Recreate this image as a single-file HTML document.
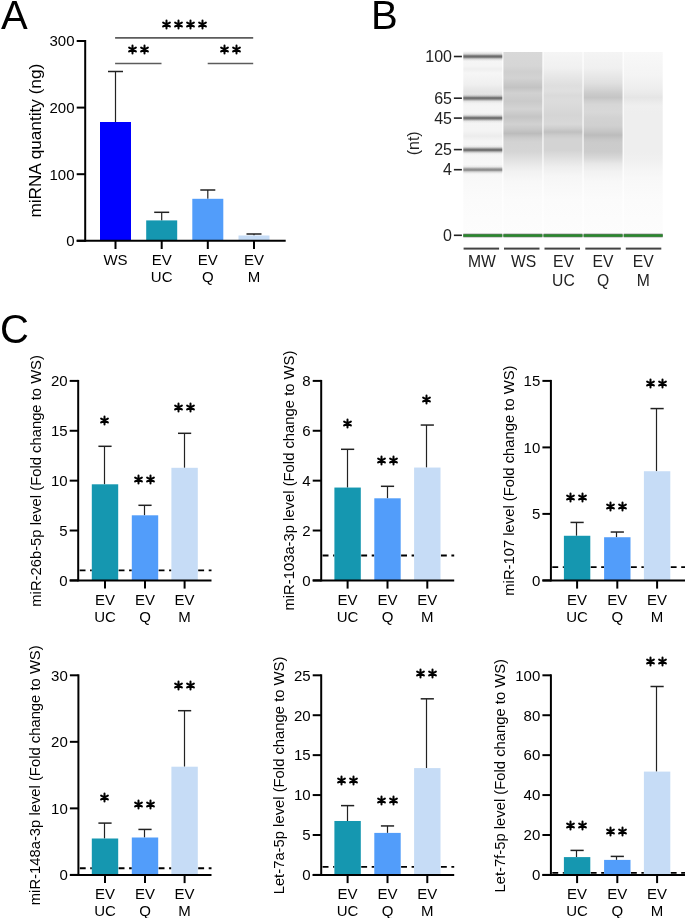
<!DOCTYPE html>
<html><head><meta charset="utf-8"><style>
html,body{margin:0;padding:0;background:#fff;}
svg{display:block;font-family:"Liberation Sans", sans-serif;}
</style></head><body>
<svg width="685" height="918" viewBox="0 0 685 918">
<defs><linearGradient id="gMW" gradientUnits="userSpaceOnUse" x1="0" y1="50" x2="0" y2="245"><stop offset="0.0082" stop-color="#f6f6f6"/><stop offset="0.0821" stop-color="#f5f5f5"/><stop offset="0.0974" stop-color="#efefef"/><stop offset="0.1179" stop-color="#f6f6f6"/><stop offset="0.1744" stop-color="#f0f0f0"/><stop offset="0.2154" stop-color="#e3e3e3"/><stop offset="0.2359" stop-color="#eaeaea"/><stop offset="0.2872" stop-color="#f5f5f5"/><stop offset="0.4154" stop-color="#f4f4f4"/><stop offset="0.4410" stop-color="#ececec"/><stop offset="0.4667" stop-color="#f5f5f5"/><stop offset="0.6410" stop-color="#f8f8f8"/><stop offset="0.7692" stop-color="#fbfbfb"/><stop offset="0.9744" stop-color="#fdfdfd"/></linearGradient><linearGradient id="gWS" gradientUnits="userSpaceOnUse" x1="0" y1="50" x2="0" y2="245"><stop offset="0.0097" stop-color="#d8d8d8"/><stop offset="0.0821" stop-color="#d6d6d6"/><stop offset="0.1128" stop-color="#cfcfcf"/><stop offset="0.1436" stop-color="#d2d2d2"/><stop offset="0.1923" stop-color="#c3c3c3"/><stop offset="0.2205" stop-color="#d1d1d1"/><stop offset="0.2636" stop-color="#cacaca"/><stop offset="0.3026" stop-color="#d3d3d3"/><stop offset="0.3421" stop-color="#c5c5c5"/><stop offset="0.3810" stop-color="#d1d1d1"/><stop offset="0.4051" stop-color="#c8c8c8"/><stop offset="0.4282" stop-color="#bcbcbc"/><stop offset="0.4513" stop-color="#cccccc"/><stop offset="0.4718" stop-color="#d3d3d3"/><stop offset="0.5221" stop-color="#d5d5d5"/><stop offset="0.5451" stop-color="#dcdcdc"/><stop offset="0.5846" stop-color="#e8e8e8"/><stop offset="0.6236" stop-color="#f2f2f2"/><stop offset="0.6769" stop-color="#f8f8f8"/><stop offset="0.7692" stop-color="#fbfbfb"/><stop offset="0.9744" stop-color="#fdfdfd"/></linearGradient><linearGradient id="gUC" gradientUnits="userSpaceOnUse" x1="0" y1="50" x2="0" y2="245"><stop offset="0.0097" stop-color="#f5f5f5"/><stop offset="0.0923" stop-color="#f0f0f0"/><stop offset="0.1308" stop-color="#e8e8e8"/><stop offset="0.1846" stop-color="#dedede"/><stop offset="0.2103" stop-color="#e0e0e0"/><stop offset="0.2323" stop-color="#dadada"/><stop offset="0.2564" stop-color="#dcdcdc"/><stop offset="0.2872" stop-color="#dadada"/><stop offset="0.3333" stop-color="#d5d5d5"/><stop offset="0.3810" stop-color="#d8d8d8"/><stop offset="0.4026" stop-color="#cdcdcd"/><stop offset="0.4205" stop-color="#c0c0c0"/><stop offset="0.4385" stop-color="#cccccc"/><stop offset="0.4564" stop-color="#d3d3d3"/><stop offset="0.5128" stop-color="#d3d3d3"/><stop offset="0.5533" stop-color="#e0e0e0"/><stop offset="0.6000" stop-color="#eeeeee"/><stop offset="0.6462" stop-color="#f6f6f6"/><stop offset="0.7692" stop-color="#fbfbfb"/><stop offset="0.9744" stop-color="#fdfdfd"/></linearGradient><linearGradient id="gQ" gradientUnits="userSpaceOnUse" x1="0" y1="50" x2="0" y2="245"><stop offset="0.0097" stop-color="#f4f4f4"/><stop offset="0.0918" stop-color="#f0f0f0"/><stop offset="0.1308" stop-color="#e8e8e8"/><stop offset="0.1692" stop-color="#e0e0e0"/><stop offset="0.2010" stop-color="#d4d4d4"/><stop offset="0.2231" stop-color="#cbcbcb"/><stop offset="0.2441" stop-color="#c5c5c5"/><stop offset="0.2615" stop-color="#cfcfcf"/><stop offset="0.2795" stop-color="#d6d6d6"/><stop offset="0.3179" stop-color="#d8d8d8"/><stop offset="0.3497" stop-color="#d2d2d2"/><stop offset="0.3887" stop-color="#d0d0d0"/><stop offset="0.4154" stop-color="#c6c6c6"/><stop offset="0.4359" stop-color="#bcbcbc"/><stop offset="0.4564" stop-color="#c6c6c6"/><stop offset="0.4749" stop-color="#cbcbcb"/><stop offset="0.5221" stop-color="#cccccc"/><stop offset="0.5533" stop-color="#d8d8d8"/><stop offset="0.5846" stop-color="#e8e8e8"/><stop offset="0.6236" stop-color="#f2f2f2"/><stop offset="0.6769" stop-color="#f8f8f8"/><stop offset="0.7692" stop-color="#fbfbfb"/><stop offset="0.9744" stop-color="#fdfdfd"/></linearGradient><linearGradient id="gM" gradientUnits="userSpaceOnUse" x1="0" y1="50" x2="0" y2="245"><stop offset="0.0097" stop-color="#f8f8f8"/><stop offset="0.1308" stop-color="#f4f4f4"/><stop offset="0.1933" stop-color="#eeeeee"/><stop offset="0.2205" stop-color="#eaeaea"/><stop offset="0.2441" stop-color="#e5e5e5"/><stop offset="0.2667" stop-color="#ebebeb"/><stop offset="0.2872" stop-color="#efefef"/><stop offset="0.3262" stop-color="#eeeeee"/><stop offset="0.5221" stop-color="#eeeeee"/><stop offset="0.5610" stop-color="#f0f0f0"/><stop offset="0.6000" stop-color="#f4f4f4"/><stop offset="0.6549" stop-color="#f8f8f8"/><stop offset="0.7692" stop-color="#fbfbfb"/><stop offset="0.9744" stop-color="#fdfdfd"/></linearGradient><linearGradient id="bMW" x1="0" y1="0" x2="0" y2="1"><stop offset="0" stop-color="#6c6c6c" stop-opacity="0.000"/><stop offset="0.18" stop-color="#6c6c6c" stop-opacity="0.100"/><stop offset="0.32" stop-color="#6c6c6c" stop-opacity="0.450"/><stop offset="0.42" stop-color="#6c6c6c" stop-opacity="0.900"/><stop offset="0.5" stop-color="#6c6c6c" stop-opacity="1.000"/><stop offset="0.58" stop-color="#6c6c6c" stop-opacity="0.900"/><stop offset="0.68" stop-color="#6c6c6c" stop-opacity="0.450"/><stop offset="0.82" stop-color="#6c6c6c" stop-opacity="0.100"/><stop offset="1" stop-color="#6c6c6c" stop-opacity="0.000"/></linearGradient><linearGradient id="bMW4" x1="0" y1="0" x2="0" y2="1"><stop offset="0" stop-color="#8c8c8c" stop-opacity="0.000"/><stop offset="0.18" stop-color="#8c8c8c" stop-opacity="0.100"/><stop offset="0.32" stop-color="#8c8c8c" stop-opacity="0.450"/><stop offset="0.42" stop-color="#8c8c8c" stop-opacity="0.900"/><stop offset="0.5" stop-color="#8c8c8c" stop-opacity="1.000"/><stop offset="0.58" stop-color="#8c8c8c" stop-opacity="0.900"/><stop offset="0.68" stop-color="#8c8c8c" stop-opacity="0.450"/><stop offset="0.82" stop-color="#8c8c8c" stop-opacity="0.100"/><stop offset="1" stop-color="#8c8c8c" stop-opacity="0.000"/></linearGradient><linearGradient id="bGR" x1="0" y1="0" x2="0" y2="1"><stop offset="0" stop-color="#237a26" stop-opacity="0.000"/><stop offset="0.18" stop-color="#237a26" stop-opacity="0.100"/><stop offset="0.32" stop-color="#237a26" stop-opacity="0.450"/><stop offset="0.42" stop-color="#237a26" stop-opacity="0.900"/><stop offset="0.5" stop-color="#237a26" stop-opacity="1.000"/><stop offset="0.58" stop-color="#237a26" stop-opacity="0.900"/><stop offset="0.68" stop-color="#237a26" stop-opacity="0.450"/><stop offset="0.82" stop-color="#237a26" stop-opacity="0.100"/><stop offset="1" stop-color="#237a26" stop-opacity="0.000"/></linearGradient>
<filter id="soft" x="0" y="0" width="685" height="918" filterUnits="userSpaceOnUse" color-interpolation-filters="sRGB"><feGaussianBlur stdDeviation="0.45"/></filter>
<filter id="blur1" x="-10%" y="-200%" width="120%" height="500%"><feGaussianBlur stdDeviation="0 0.7"/></filter>
</defs>
<rect width="685" height="918" fill="#fff"/>
<g filter="url(#soft)">
<rect width="685" height="918" fill="#fff"/>
<rect x="463.30" y="51.6" width="39.0" height="188.4" fill="url(#gMW)"/>
<rect x="503.40" y="52.0" width="39.0" height="188.0" fill="url(#gWS)"/>
<rect x="543.50" y="52.0" width="39.0" height="188.0" fill="url(#gUC)"/>
<rect x="583.60" y="52.0" width="39.0" height="188.0" fill="url(#gQ)"/>
<rect x="623.70" y="52.0" width="39.0" height="188.0" fill="url(#gM)"/>
<rect x="463.30" y="51.40" width="39.0" height="10.2" fill="url(#bMW)"/>
<rect x="463.30" y="93.10" width="39.0" height="10.2" fill="url(#bMW)"/>
<rect x="463.30" y="113.00" width="39.0" height="10.2" fill="url(#bMW)"/>
<rect x="463.30" y="144.80" width="39.0" height="10.2" fill="url(#bMW)"/>
<rect x="463.30" y="164.60" width="39.0" height="10.2" fill="url(#bMW4)"/>
<rect x="463.30" y="233.7" width="39.0" height="3.6" fill="#5a5a5a" opacity="0.85"/>
<rect x="463.30" y="234.4" width="39.0" height="2.3" fill="#268a2a"/>
<rect x="503.40" y="233.7" width="39.0" height="3.6" fill="#5a5a5a" opacity="0.85"/>
<rect x="503.40" y="234.4" width="39.0" height="2.3" fill="#268a2a"/>
<rect x="543.50" y="233.7" width="39.0" height="3.6" fill="#5a5a5a" opacity="0.85"/>
<rect x="543.50" y="234.4" width="39.0" height="2.3" fill="#268a2a"/>
<rect x="583.60" y="233.7" width="39.0" height="3.6" fill="#5a5a5a" opacity="0.85"/>
<rect x="583.60" y="234.4" width="39.0" height="2.3" fill="#268a2a"/>
<rect x="623.70" y="233.7" width="39.0" height="3.6" fill="#5a5a5a" opacity="0.85"/>
<rect x="623.70" y="234.4" width="39.0" height="2.3" fill="#268a2a"/>
<rect x="463.60" y="247.6" width="35.5" height="2" fill="#444"/>
<rect x="504.00" y="247.6" width="35.5" height="2" fill="#444"/>
<rect x="544.50" y="247.6" width="35.5" height="2" fill="#444"/>
<rect x="585.30" y="247.6" width="35.5" height="2" fill="#444"/>
<rect x="625.80" y="247.6" width="35.5" height="2" fill="#444"/>
<text x="481.90" y="267.2" font-size="15.7" text-anchor="middle" fill="#222">MW</text>
<text x="523.70" y="267.2" font-size="15.7" text-anchor="middle" fill="#222">WS</text>
<text x="563.40" y="267.2" font-size="15.7" text-anchor="middle" fill="#222">EV</text>
<text x="563.40" y="286.2" font-size="15.7" text-anchor="middle" fill="#222">UC</text>
<text x="603.00" y="267.2" font-size="15.7" text-anchor="middle" fill="#222">EV</text>
<text x="603.00" y="286.2" font-size="15.7" text-anchor="middle" fill="#222">Q</text>
<text x="643.20" y="267.2" font-size="15.7" text-anchor="middle" fill="#222">EV</text>
<text x="643.20" y="286.2" font-size="15.7" text-anchor="middle" fill="#222">M</text>
<text x="452" y="62.20" font-size="16" text-anchor="end" fill="#222">100</text>
<rect x="453.9" y="55.70" width="8" height="1.6" fill="#222"/>
<text x="452" y="103.90" font-size="16" text-anchor="end" fill="#222">65</text>
<rect x="453.9" y="97.40" width="8" height="1.6" fill="#222"/>
<text x="452" y="123.80" font-size="16" text-anchor="end" fill="#222">45</text>
<rect x="453.9" y="117.30" width="8" height="1.6" fill="#222"/>
<text x="452" y="155.30" font-size="16" text-anchor="end" fill="#222">25</text>
<rect x="453.9" y="148.80" width="8" height="1.6" fill="#222"/>
<text x="452" y="175.40" font-size="16" text-anchor="end" fill="#222">4</text>
<rect x="453.9" y="168.90" width="8" height="1.6" fill="#222"/>
<text x="452" y="241.00" font-size="16" text-anchor="end" fill="#222">0</text>
<rect x="453.9" y="234.50" width="8" height="1.6" fill="#222"/>
<text transform="translate(419.3,143.3) rotate(-90)" font-size="16" text-anchor="middle" fill="#222">(nt)</text>
<text x="1.00" y="29.00" font-size="40" text-anchor="start" font-weight="normal" fill="#000" >A</text>
<text x="371.00" y="29.00" font-size="40" text-anchor="start" font-weight="normal" fill="#000" >B</text>
<text x="0.00" y="343.00" font-size="40" text-anchor="start" font-weight="normal" fill="#000" >C</text>
<line x1="115.50" y1="71.50" x2="115.50" y2="122.00" stroke="#222" stroke-width="1.2" />
<line x1="108.00" y1="71.50" x2="123.00" y2="71.50" stroke="#222" stroke-width="1.5" />
<rect x="100.00" y="122.00" width="31.00" height="118.80" fill="#0000ff"/>
<line x1="115.50" y1="240.80" x2="115.50" y2="249.00" stroke="#000" stroke-width="2" />
<text x="115.50" y="265.30" font-size="15" text-anchor="middle" font-weight="normal" fill="#000" >WS</text>
<line x1="161.70" y1="212.30" x2="161.70" y2="220.40" stroke="#222" stroke-width="1.2" />
<line x1="154.20" y1="212.30" x2="169.20" y2="212.30" stroke="#222" stroke-width="1.5" />
<rect x="146.20" y="220.40" width="31.00" height="20.40" fill="#1597b0"/>
<line x1="161.70" y1="240.80" x2="161.70" y2="249.00" stroke="#000" stroke-width="2" />
<text x="161.70" y="265.30" font-size="15" text-anchor="middle" font-weight="normal" fill="#000" >EV</text>
<text x="161.70" y="282.30" font-size="15" text-anchor="middle" font-weight="normal" fill="#000" >UC</text>
<line x1="207.80" y1="190.00" x2="207.80" y2="198.80" stroke="#222" stroke-width="1.2" />
<line x1="200.30" y1="190.00" x2="215.30" y2="190.00" stroke="#222" stroke-width="1.5" />
<rect x="192.30" y="198.80" width="31.00" height="42.00" fill="#529dfa"/>
<line x1="207.80" y1="240.80" x2="207.80" y2="249.00" stroke="#000" stroke-width="2" />
<text x="207.80" y="265.30" font-size="15" text-anchor="middle" font-weight="normal" fill="#000" >EV</text>
<text x="207.80" y="282.30" font-size="15" text-anchor="middle" font-weight="normal" fill="#000" >Q</text>
<line x1="254.00" y1="234.00" x2="254.00" y2="235.50" stroke="#222" stroke-width="1.2" />
<line x1="246.50" y1="234.00" x2="261.50" y2="234.00" stroke="#222" stroke-width="1.5" />
<rect x="238.50" y="235.50" width="31.00" height="5.30" fill="#c6dcf6"/>
<line x1="254.00" y1="240.80" x2="254.00" y2="249.00" stroke="#000" stroke-width="2" />
<text x="254.00" y="265.30" font-size="15" text-anchor="middle" font-weight="normal" fill="#000" >EV</text>
<text x="254.00" y="282.30" font-size="15" text-anchor="middle" font-weight="normal" fill="#000" >M</text>
<line x1="85.20" y1="40.00" x2="85.20" y2="241.80" stroke="#000" stroke-width="2" />
<line x1="76.70" y1="240.80" x2="285.70" y2="240.80" stroke="#000" stroke-width="2" />
<line x1="76.70" y1="240.80" x2="85.20" y2="240.80" stroke="#000" stroke-width="2" />
<text x="74.50" y="246.10" font-size="15" text-anchor="end" font-weight="normal" fill="#000" >0</text>
<line x1="76.70" y1="174.20" x2="85.20" y2="174.20" stroke="#000" stroke-width="2" />
<text x="74.50" y="179.50" font-size="15" text-anchor="end" font-weight="normal" fill="#000" >100</text>
<line x1="76.70" y1="107.60" x2="85.20" y2="107.60" stroke="#000" stroke-width="2" />
<text x="74.50" y="112.90" font-size="15" text-anchor="end" font-weight="normal" fill="#000" >200</text>
<line x1="76.70" y1="41.00" x2="85.20" y2="41.00" stroke="#000" stroke-width="2" />
<text x="74.50" y="46.30" font-size="15" text-anchor="end" font-weight="normal" fill="#000" >300</text>
<text transform="translate(41.2,140.7) rotate(-90)" font-size="17.2" text-anchor="middle">miRNA quantity (ng)</text>
<line x1="115.10" y1="37.90" x2="253.20" y2="37.90" stroke="#5c5c5c" stroke-width="1.6" />
<line x1="115.10" y1="63.50" x2="161.50" y2="63.50" stroke="#5c5c5c" stroke-width="1.6" />
<line x1="207.70" y1="63.50" x2="253.20" y2="63.50" stroke="#5c5c5c" stroke-width="1.6" />
<path d="M166.50 20.60V28.40M163.12 22.55L169.88 26.45M163.12 26.45L169.88 22.55M178.50 20.60V28.40M175.12 22.55L181.88 26.45M175.12 26.45L181.88 22.55M190.50 20.60V28.40M187.12 22.55L193.88 26.45M187.12 26.45L193.88 22.55M202.50 20.60V28.40M199.12 22.55L205.88 26.45M199.12 26.45L205.88 22.55" stroke="#000" stroke-width="2.0" stroke-linecap="round" fill="none"/>
<path d="M132.50 45.60V53.40M129.12 47.55L135.88 51.45M129.12 51.45L135.88 47.55M144.50 45.60V53.40M141.12 47.55L147.88 51.45M141.12 51.45L147.88 47.55" stroke="#000" stroke-width="2.0" stroke-linecap="round" fill="none"/>
<path d="M224.50 45.60V53.40M221.12 47.55L227.88 51.45M221.12 51.45L227.88 47.55M236.50 45.60V53.40M233.12 47.55L239.88 51.45M233.12 51.45L239.88 47.55" stroke="#000" stroke-width="2.0" stroke-linecap="round" fill="none"/>
<line x1="79.60" y1="570.42" x2="91.80" y2="570.42" stroke="#000" stroke-width="1.9" stroke-dasharray="5.9 4.6"/>
<line x1="118.60" y1="570.42" x2="131.80" y2="570.42" stroke="#000" stroke-width="1.9" stroke-dasharray="5.9 4.6"/>
<line x1="158.60" y1="570.42" x2="171.40" y2="570.42" stroke="#000" stroke-width="1.9" stroke-dasharray="5.9 4.6"/>
<line x1="198.20" y1="570.42" x2="211.50" y2="570.42" stroke="#000" stroke-width="1.9" stroke-dasharray="5.9 4.6"/>
<line x1="104.50" y1="446.30" x2="104.50" y2="484.30" stroke="#222" stroke-width="1.2" />
<line x1="98.40" y1="446.30" x2="111.60" y2="446.30" stroke="#222" stroke-width="1.5" />
<rect x="91.80" y="484.30" width="26.40" height="96.10" fill="#1597b0"/>
<line x1="105.00" y1="580.40" x2="105.00" y2="588.60" stroke="#000" stroke-width="2" />
<text x="105.00" y="604.70" font-size="15" text-anchor="middle" font-weight="normal" fill="#000" >EV</text>
<text x="105.00" y="621.70" font-size="15" text-anchor="middle" font-weight="normal" fill="#000" >UC</text>
<path d="M104.50 416.60V424.40M101.12 418.55L107.88 422.45M101.12 422.45L107.88 418.55" stroke="#000" stroke-width="2.0" stroke-linecap="round" fill="none"/>
<line x1="144.50" y1="505.30" x2="144.50" y2="515.30" stroke="#222" stroke-width="1.2" />
<line x1="138.40" y1="505.30" x2="151.60" y2="505.30" stroke="#222" stroke-width="1.5" />
<rect x="131.80" y="515.30" width="26.40" height="65.10" fill="#529dfa"/>
<line x1="145.00" y1="580.40" x2="145.00" y2="588.60" stroke="#000" stroke-width="2" />
<text x="145.00" y="604.70" font-size="15" text-anchor="middle" font-weight="normal" fill="#000" >EV</text>
<text x="145.00" y="621.70" font-size="15" text-anchor="middle" font-weight="normal" fill="#000" >Q</text>
<path d="M138.50 475.60V483.40M135.12 477.55L141.88 481.45M135.12 481.45L141.88 477.55M150.50 475.60V483.40M147.12 477.55L153.88 481.45M147.12 481.45L153.88 477.55" stroke="#000" stroke-width="2.0" stroke-linecap="round" fill="none"/>
<line x1="184.50" y1="433.30" x2="184.50" y2="467.80" stroke="#222" stroke-width="1.2" />
<line x1="178.00" y1="433.30" x2="191.20" y2="433.30" stroke="#222" stroke-width="1.5" />
<rect x="171.40" y="467.80" width="26.40" height="112.60" fill="#c6dcf6"/>
<line x1="184.60" y1="580.40" x2="184.60" y2="588.60" stroke="#000" stroke-width="2" />
<text x="184.60" y="604.70" font-size="15" text-anchor="middle" font-weight="normal" fill="#000" >EV</text>
<text x="184.60" y="621.70" font-size="15" text-anchor="middle" font-weight="normal" fill="#000" >M</text>
<path d="M178.50 403.60V411.40M175.12 405.55L181.88 409.45M175.12 409.45L181.88 405.55M190.50 403.60V411.40M187.12 405.55L193.88 409.45M187.12 409.45L193.88 405.55" stroke="#000" stroke-width="2.0" stroke-linecap="round" fill="none"/>
<line x1="78.20" y1="379.90" x2="78.20" y2="581.40" stroke="#000" stroke-width="2" />
<line x1="69.70" y1="580.40" x2="211.50" y2="580.40" stroke="#000" stroke-width="2" />
<line x1="69.70" y1="580.40" x2="78.20" y2="580.40" stroke="#000" stroke-width="2" />
<text x="67.60" y="585.70" font-size="15" text-anchor="end" font-weight="normal" fill="#000" >0</text>
<line x1="69.70" y1="530.52" x2="78.20" y2="530.52" stroke="#000" stroke-width="2" />
<text x="67.60" y="535.82" font-size="15" text-anchor="end" font-weight="normal" fill="#000" >5</text>
<line x1="69.70" y1="480.65" x2="78.20" y2="480.65" stroke="#000" stroke-width="2" />
<text x="67.60" y="485.95" font-size="15" text-anchor="end" font-weight="normal" fill="#000" >10</text>
<line x1="69.70" y1="430.77" x2="78.20" y2="430.77" stroke="#000" stroke-width="2" />
<text x="67.60" y="436.07" font-size="15" text-anchor="end" font-weight="normal" fill="#000" >15</text>
<line x1="69.70" y1="380.90" x2="78.20" y2="380.90" stroke="#000" stroke-width="2" />
<text x="67.60" y="386.20" font-size="15" text-anchor="end" font-weight="normal" fill="#000" >20</text>
<text transform="translate(40.6,480.9) rotate(-90)" font-size="14.8" text-anchor="middle">miR-26b-5p level (Fold change to WS)</text>
<line x1="322.60" y1="555.46" x2="334.40" y2="555.46" stroke="#000" stroke-width="1.9" stroke-dasharray="5.9 4.6"/>
<line x1="361.20" y1="555.46" x2="374.30" y2="555.46" stroke="#000" stroke-width="1.9" stroke-dasharray="5.9 4.6"/>
<line x1="401.10" y1="555.46" x2="414.10" y2="555.46" stroke="#000" stroke-width="1.9" stroke-dasharray="5.9 4.6"/>
<line x1="440.90" y1="555.46" x2="454.20" y2="555.46" stroke="#000" stroke-width="1.9" stroke-dasharray="5.9 4.6"/>
<line x1="347.50" y1="449.30" x2="347.50" y2="487.55" stroke="#222" stroke-width="1.2" />
<line x1="341.00" y1="449.30" x2="354.20" y2="449.30" stroke="#222" stroke-width="1.5" />
<rect x="334.40" y="487.55" width="26.40" height="92.85" fill="#1597b0"/>
<line x1="347.60" y1="580.40" x2="347.60" y2="588.60" stroke="#000" stroke-width="2" />
<text x="347.60" y="604.70" font-size="15" text-anchor="middle" font-weight="normal" fill="#000" >EV</text>
<text x="347.60" y="621.70" font-size="15" text-anchor="middle" font-weight="normal" fill="#000" >UC</text>
<path d="M347.50 419.60V427.40M344.12 421.55L350.88 425.45M344.12 425.45L350.88 421.55" stroke="#000" stroke-width="2.0" stroke-linecap="round" fill="none"/>
<line x1="387.50" y1="486.30" x2="387.50" y2="498.30" stroke="#222" stroke-width="1.2" />
<line x1="380.90" y1="486.30" x2="394.10" y2="486.30" stroke="#222" stroke-width="1.5" />
<rect x="374.30" y="498.30" width="26.40" height="82.10" fill="#529dfa"/>
<line x1="387.50" y1="580.40" x2="387.50" y2="588.60" stroke="#000" stroke-width="2" />
<text x="387.50" y="604.70" font-size="15" text-anchor="middle" font-weight="normal" fill="#000" >EV</text>
<text x="387.50" y="621.70" font-size="15" text-anchor="middle" font-weight="normal" fill="#000" >Q</text>
<path d="M381.50 456.60V464.40M378.12 458.55L384.88 462.45M378.12 462.45L384.88 458.55M393.50 456.60V464.40M390.12 458.55L396.88 462.45M390.12 462.45L396.88 458.55" stroke="#000" stroke-width="2.0" stroke-linecap="round" fill="none"/>
<line x1="426.50" y1="425.05" x2="426.50" y2="467.55" stroke="#222" stroke-width="1.2" />
<line x1="420.70" y1="425.05" x2="433.90" y2="425.05" stroke="#222" stroke-width="1.5" />
<rect x="414.10" y="467.55" width="26.40" height="112.85" fill="#c6dcf6"/>
<line x1="427.30" y1="580.40" x2="427.30" y2="588.60" stroke="#000" stroke-width="2" />
<text x="427.30" y="604.70" font-size="15" text-anchor="middle" font-weight="normal" fill="#000" >EV</text>
<text x="427.30" y="621.70" font-size="15" text-anchor="middle" font-weight="normal" fill="#000" >M</text>
<path d="M426.50 395.60V403.40M423.12 397.55L429.88 401.45M423.12 401.45L429.88 397.55" stroke="#000" stroke-width="2.0" stroke-linecap="round" fill="none"/>
<line x1="321.20" y1="379.90" x2="321.20" y2="581.40" stroke="#000" stroke-width="2" />
<line x1="312.70" y1="580.40" x2="454.20" y2="580.40" stroke="#000" stroke-width="2" />
<line x1="312.70" y1="580.40" x2="321.20" y2="580.40" stroke="#000" stroke-width="2" />
<text x="310.60" y="585.70" font-size="15" text-anchor="end" font-weight="normal" fill="#000" >0</text>
<line x1="312.70" y1="530.52" x2="321.20" y2="530.52" stroke="#000" stroke-width="2" />
<text x="310.60" y="535.82" font-size="15" text-anchor="end" font-weight="normal" fill="#000" >2</text>
<line x1="312.70" y1="480.65" x2="321.20" y2="480.65" stroke="#000" stroke-width="2" />
<text x="310.60" y="485.95" font-size="15" text-anchor="end" font-weight="normal" fill="#000" >4</text>
<line x1="312.70" y1="430.77" x2="321.20" y2="430.77" stroke="#000" stroke-width="2" />
<text x="310.60" y="436.07" font-size="15" text-anchor="end" font-weight="normal" fill="#000" >6</text>
<line x1="312.70" y1="380.90" x2="321.20" y2="380.90" stroke="#000" stroke-width="2" />
<text x="310.60" y="386.20" font-size="15" text-anchor="end" font-weight="normal" fill="#000" >8</text>
<text transform="translate(293.6,480.6) rotate(-90)" font-size="14.8" text-anchor="middle">miR-103a-3p level (Fold change to WS)</text>
<line x1="552.30" y1="567.10" x2="563.90" y2="567.10" stroke="#000" stroke-width="1.9" stroke-dasharray="5.9 4.6"/>
<line x1="590.70" y1="567.10" x2="604.10" y2="567.10" stroke="#000" stroke-width="1.9" stroke-dasharray="5.9 4.6"/>
<line x1="630.90" y1="567.10" x2="643.90" y2="567.10" stroke="#000" stroke-width="1.9" stroke-dasharray="5.9 4.6"/>
<line x1="670.70" y1="567.10" x2="685.00" y2="567.10" stroke="#000" stroke-width="1.9" stroke-dasharray="5.9 4.6"/>
<line x1="576.50" y1="522.43" x2="576.50" y2="535.77" stroke="#222" stroke-width="1.2" />
<line x1="570.50" y1="522.43" x2="583.70" y2="522.43" stroke="#222" stroke-width="1.5" />
<rect x="563.90" y="535.77" width="26.40" height="44.63" fill="#1597b0"/>
<line x1="577.10" y1="580.40" x2="577.10" y2="588.60" stroke="#000" stroke-width="2" />
<text x="577.10" y="604.70" font-size="15" text-anchor="middle" font-weight="normal" fill="#000" >EV</text>
<text x="577.10" y="621.70" font-size="15" text-anchor="middle" font-weight="normal" fill="#000" >UC</text>
<path d="M570.50 493.60V501.40M567.12 495.55L573.88 499.45M567.12 499.45L573.88 495.55M582.50 493.60V501.40M579.12 495.55L585.88 499.45M579.12 499.45L585.88 495.55" stroke="#000" stroke-width="2.0" stroke-linecap="round" fill="none"/>
<line x1="616.50" y1="532.03" x2="616.50" y2="537.23" stroke="#222" stroke-width="1.2" />
<line x1="610.70" y1="532.03" x2="623.90" y2="532.03" stroke="#222" stroke-width="1.5" />
<rect x="604.10" y="537.23" width="26.40" height="43.17" fill="#529dfa"/>
<line x1="617.30" y1="580.40" x2="617.30" y2="588.60" stroke="#000" stroke-width="2" />
<text x="617.30" y="604.70" font-size="15" text-anchor="middle" font-weight="normal" fill="#000" >EV</text>
<text x="617.30" y="621.70" font-size="15" text-anchor="middle" font-weight="normal" fill="#000" >Q</text>
<path d="M610.50 502.60V510.40M607.12 504.55L613.88 508.45M607.12 508.45L613.88 504.55M622.50 502.60V510.40M619.12 504.55L625.88 508.45M619.12 508.45L625.88 504.55" stroke="#000" stroke-width="2.0" stroke-linecap="round" fill="none"/>
<line x1="656.50" y1="408.57" x2="656.50" y2="471.23" stroke="#222" stroke-width="1.2" />
<line x1="650.50" y1="408.57" x2="663.70" y2="408.57" stroke="#222" stroke-width="1.5" />
<rect x="643.90" y="471.23" width="26.40" height="109.17" fill="#c6dcf6"/>
<line x1="657.10" y1="580.40" x2="657.10" y2="588.60" stroke="#000" stroke-width="2" />
<text x="657.10" y="604.70" font-size="15" text-anchor="middle" font-weight="normal" fill="#000" >EV</text>
<text x="657.10" y="621.70" font-size="15" text-anchor="middle" font-weight="normal" fill="#000" >M</text>
<path d="M650.50 379.60V387.40M647.12 381.55L653.88 385.45M647.12 385.45L653.88 381.55M662.50 379.60V387.40M659.12 381.55L665.88 385.45M659.12 385.45L665.88 381.55" stroke="#000" stroke-width="2.0" stroke-linecap="round" fill="none"/>
<line x1="550.90" y1="379.90" x2="550.90" y2="581.40" stroke="#000" stroke-width="2" />
<line x1="542.40" y1="580.40" x2="685.00" y2="580.40" stroke="#000" stroke-width="2" />
<line x1="542.40" y1="580.40" x2="550.90" y2="580.40" stroke="#000" stroke-width="2" />
<text x="540.30" y="585.70" font-size="15" text-anchor="end" font-weight="normal" fill="#000" >0</text>
<line x1="542.40" y1="513.90" x2="550.90" y2="513.90" stroke="#000" stroke-width="2" />
<text x="540.30" y="519.20" font-size="15" text-anchor="end" font-weight="normal" fill="#000" >5</text>
<line x1="542.40" y1="447.40" x2="550.90" y2="447.40" stroke="#000" stroke-width="2" />
<text x="540.30" y="452.70" font-size="15" text-anchor="end" font-weight="normal" fill="#000" >10</text>
<line x1="542.40" y1="380.90" x2="550.90" y2="380.90" stroke="#000" stroke-width="2" />
<text x="540.30" y="386.20" font-size="15" text-anchor="end" font-weight="normal" fill="#000" >15</text>
<text transform="translate(514.0,480.6) rotate(-90)" font-size="14.8" text-anchor="middle">miR-107 level (Fold change to WS)</text>
<line x1="79.80" y1="868.25" x2="91.80" y2="868.25" stroke="#000" stroke-width="1.9" stroke-dasharray="5.9 4.6"/>
<line x1="118.60" y1="868.25" x2="131.80" y2="868.25" stroke="#000" stroke-width="1.9" stroke-dasharray="5.9 4.6"/>
<line x1="158.60" y1="868.25" x2="171.40" y2="868.25" stroke="#000" stroke-width="1.9" stroke-dasharray="5.9 4.6"/>
<line x1="198.20" y1="868.25" x2="211.50" y2="868.25" stroke="#000" stroke-width="1.9" stroke-dasharray="5.9 4.6"/>
<line x1="104.50" y1="823.10" x2="104.50" y2="838.50" stroke="#222" stroke-width="1.2" />
<line x1="98.40" y1="823.10" x2="111.60" y2="823.10" stroke="#222" stroke-width="1.5" />
<rect x="91.80" y="838.50" width="26.40" height="36.40" fill="#1597b0"/>
<line x1="105.00" y1="874.90" x2="105.00" y2="883.10" stroke="#000" stroke-width="2" />
<text x="105.00" y="899.20" font-size="15" text-anchor="middle" font-weight="normal" fill="#000" >EV</text>
<text x="105.00" y="916.20" font-size="15" text-anchor="middle" font-weight="normal" fill="#000" >UC</text>
<path d="M104.50 793.60V801.40M101.12 795.55L107.88 799.45M101.12 799.45L107.88 795.55" stroke="#000" stroke-width="2.0" stroke-linecap="round" fill="none"/>
<line x1="144.50" y1="829.43" x2="144.50" y2="837.50" stroke="#222" stroke-width="1.2" />
<line x1="138.40" y1="829.43" x2="151.60" y2="829.43" stroke="#222" stroke-width="1.5" />
<rect x="131.80" y="837.50" width="26.40" height="37.40" fill="#529dfa"/>
<line x1="145.00" y1="874.90" x2="145.00" y2="883.10" stroke="#000" stroke-width="2" />
<text x="145.00" y="899.20" font-size="15" text-anchor="middle" font-weight="normal" fill="#000" >EV</text>
<text x="145.00" y="916.20" font-size="15" text-anchor="middle" font-weight="normal" fill="#000" >Q</text>
<path d="M138.50 800.60V808.40M135.12 802.55L141.88 806.45M135.12 806.45L141.88 802.55M150.50 800.60V808.40M147.12 802.55L153.88 806.45M147.12 806.45L153.88 802.55" stroke="#000" stroke-width="2.0" stroke-linecap="round" fill="none"/>
<line x1="184.50" y1="710.70" x2="184.50" y2="766.70" stroke="#222" stroke-width="1.2" />
<line x1="178.00" y1="710.70" x2="191.20" y2="710.70" stroke="#222" stroke-width="1.5" />
<rect x="171.40" y="766.70" width="26.40" height="108.20" fill="#c6dcf6"/>
<line x1="184.60" y1="874.90" x2="184.60" y2="883.10" stroke="#000" stroke-width="2" />
<text x="184.60" y="899.20" font-size="15" text-anchor="middle" font-weight="normal" fill="#000" >EV</text>
<text x="184.60" y="916.20" font-size="15" text-anchor="middle" font-weight="normal" fill="#000" >M</text>
<path d="M178.50 681.60V689.40M175.12 683.55L181.88 687.45M175.12 687.45L181.88 683.55M190.50 681.60V689.40M187.12 683.55L193.88 687.45M187.12 687.45L193.88 683.55" stroke="#000" stroke-width="2.0" stroke-linecap="round" fill="none"/>
<line x1="78.40" y1="674.30" x2="78.40" y2="875.90" stroke="#000" stroke-width="2" />
<line x1="69.90" y1="874.90" x2="211.50" y2="874.90" stroke="#000" stroke-width="2" />
<line x1="69.90" y1="874.90" x2="78.40" y2="874.90" stroke="#000" stroke-width="2" />
<text x="67.80" y="880.20" font-size="15" text-anchor="end" font-weight="normal" fill="#000" >0</text>
<line x1="69.90" y1="808.37" x2="78.40" y2="808.37" stroke="#000" stroke-width="2" />
<text x="67.80" y="813.67" font-size="15" text-anchor="end" font-weight="normal" fill="#000" >10</text>
<line x1="69.90" y1="741.83" x2="78.40" y2="741.83" stroke="#000" stroke-width="2" />
<text x="67.80" y="747.13" font-size="15" text-anchor="end" font-weight="normal" fill="#000" >20</text>
<line x1="69.90" y1="675.30" x2="78.40" y2="675.30" stroke="#000" stroke-width="2" />
<text x="67.80" y="680.60" font-size="15" text-anchor="end" font-weight="normal" fill="#000" >30</text>
<text transform="translate(40.4,775.3) rotate(-90)" font-size="14.8" text-anchor="middle">miR-148a-3p level (Fold change to WS)</text>
<line x1="322.60" y1="866.92" x2="334.40" y2="866.92" stroke="#000" stroke-width="1.9" stroke-dasharray="5.9 4.6"/>
<line x1="361.20" y1="866.92" x2="374.30" y2="866.92" stroke="#000" stroke-width="1.9" stroke-dasharray="5.9 4.6"/>
<line x1="401.10" y1="866.92" x2="414.10" y2="866.92" stroke="#000" stroke-width="1.9" stroke-dasharray="5.9 4.6"/>
<line x1="440.90" y1="866.92" x2="454.20" y2="866.92" stroke="#000" stroke-width="1.9" stroke-dasharray="5.9 4.6"/>
<line x1="347.50" y1="805.62" x2="347.50" y2="820.98" stroke="#222" stroke-width="1.2" />
<line x1="341.00" y1="805.62" x2="354.20" y2="805.62" stroke="#222" stroke-width="1.5" />
<rect x="334.40" y="820.98" width="26.40" height="53.92" fill="#1597b0"/>
<line x1="347.60" y1="874.90" x2="347.60" y2="883.10" stroke="#000" stroke-width="2" />
<text x="347.60" y="899.20" font-size="15" text-anchor="middle" font-weight="normal" fill="#000" >EV</text>
<text x="347.60" y="916.20" font-size="15" text-anchor="middle" font-weight="normal" fill="#000" >UC</text>
<path d="M341.50 776.60V784.40M338.12 778.55L344.88 782.45M338.12 782.45L344.88 778.55M353.50 776.60V784.40M350.12 778.55L356.88 782.45M350.12 782.45L356.88 778.55" stroke="#000" stroke-width="2.0" stroke-linecap="round" fill="none"/>
<line x1="387.50" y1="825.94" x2="387.50" y2="832.90" stroke="#222" stroke-width="1.2" />
<line x1="380.90" y1="825.94" x2="394.10" y2="825.94" stroke="#222" stroke-width="1.5" />
<rect x="374.30" y="832.90" width="26.40" height="42.00" fill="#529dfa"/>
<line x1="387.50" y1="874.90" x2="387.50" y2="883.10" stroke="#000" stroke-width="2" />
<text x="387.50" y="899.20" font-size="15" text-anchor="middle" font-weight="normal" fill="#000" >EV</text>
<text x="387.50" y="916.20" font-size="15" text-anchor="middle" font-weight="normal" fill="#000" >Q</text>
<path d="M381.50 796.60V804.40M378.12 798.55L384.88 802.45M378.12 802.45L384.88 798.55M393.50 796.60V804.40M390.12 798.55L396.88 802.45M390.12 802.45L396.88 798.55" stroke="#000" stroke-width="2.0" stroke-linecap="round" fill="none"/>
<line x1="426.50" y1="698.82" x2="426.50" y2="768.10" stroke="#222" stroke-width="1.2" />
<line x1="420.70" y1="698.82" x2="433.90" y2="698.82" stroke="#222" stroke-width="1.5" />
<rect x="414.10" y="768.10" width="26.40" height="106.80" fill="#c6dcf6"/>
<line x1="427.30" y1="874.90" x2="427.30" y2="883.10" stroke="#000" stroke-width="2" />
<text x="427.30" y="899.20" font-size="15" text-anchor="middle" font-weight="normal" fill="#000" >EV</text>
<text x="427.30" y="916.20" font-size="15" text-anchor="middle" font-weight="normal" fill="#000" >M</text>
<path d="M420.50 669.60V677.40M417.12 671.55L423.88 675.45M417.12 675.45L423.88 671.55M432.50 669.60V677.40M429.12 671.55L435.88 675.45M429.12 675.45L435.88 671.55" stroke="#000" stroke-width="2.0" stroke-linecap="round" fill="none"/>
<line x1="321.20" y1="674.30" x2="321.20" y2="875.90" stroke="#000" stroke-width="2" />
<line x1="312.70" y1="874.90" x2="454.20" y2="874.90" stroke="#000" stroke-width="2" />
<line x1="312.70" y1="874.90" x2="321.20" y2="874.90" stroke="#000" stroke-width="2" />
<text x="310.60" y="880.20" font-size="15" text-anchor="end" font-weight="normal" fill="#000" >0</text>
<line x1="312.70" y1="834.98" x2="321.20" y2="834.98" stroke="#000" stroke-width="2" />
<text x="310.60" y="840.28" font-size="15" text-anchor="end" font-weight="normal" fill="#000" >5</text>
<line x1="312.70" y1="795.06" x2="321.20" y2="795.06" stroke="#000" stroke-width="2" />
<text x="310.60" y="800.36" font-size="15" text-anchor="end" font-weight="normal" fill="#000" >10</text>
<line x1="312.70" y1="755.14" x2="321.20" y2="755.14" stroke="#000" stroke-width="2" />
<text x="310.60" y="760.44" font-size="15" text-anchor="end" font-weight="normal" fill="#000" >15</text>
<line x1="312.70" y1="715.22" x2="321.20" y2="715.22" stroke="#000" stroke-width="2" />
<text x="310.60" y="720.52" font-size="15" text-anchor="end" font-weight="normal" fill="#000" >20</text>
<line x1="312.70" y1="675.30" x2="321.20" y2="675.30" stroke="#000" stroke-width="2" />
<text x="310.60" y="680.60" font-size="15" text-anchor="end" font-weight="normal" fill="#000" >25</text>
<text transform="translate(283.9,775.5) rotate(-90)" font-size="14.8" text-anchor="middle">Let-7a-5p level (Fold change to WS)</text>
<line x1="552.30" y1="872.90" x2="563.90" y2="872.90" stroke="#000" stroke-width="1.9" stroke-dasharray="5.9 4.6"/>
<line x1="590.70" y1="872.90" x2="604.10" y2="872.90" stroke="#000" stroke-width="1.9" stroke-dasharray="5.9 4.6"/>
<line x1="630.90" y1="872.90" x2="643.90" y2="872.90" stroke="#000" stroke-width="1.9" stroke-dasharray="5.9 4.6"/>
<line x1="670.70" y1="872.90" x2="685.00" y2="872.90" stroke="#000" stroke-width="1.9" stroke-dasharray="5.9 4.6"/>
<line x1="576.50" y1="850.40" x2="576.50" y2="857.10" stroke="#222" stroke-width="1.2" />
<line x1="570.50" y1="850.40" x2="583.70" y2="850.40" stroke="#222" stroke-width="1.5" />
<rect x="563.90" y="857.10" width="26.40" height="17.80" fill="#1597b0"/>
<line x1="577.10" y1="874.90" x2="577.10" y2="883.10" stroke="#000" stroke-width="2" />
<text x="577.10" y="899.20" font-size="15" text-anchor="middle" font-weight="normal" fill="#000" >EV</text>
<text x="577.10" y="916.20" font-size="15" text-anchor="middle" font-weight="normal" fill="#000" >UC</text>
<path d="M570.50 821.60V829.40M567.12 823.55L573.88 827.45M567.12 827.45L573.88 823.55M582.50 821.60V829.40M579.12 823.55L585.88 827.45M579.12 827.45L585.88 823.55" stroke="#000" stroke-width="2.0" stroke-linecap="round" fill="none"/>
<line x1="616.50" y1="856.40" x2="616.50" y2="859.90" stroke="#222" stroke-width="1.2" />
<line x1="610.70" y1="856.40" x2="623.90" y2="856.40" stroke="#222" stroke-width="1.5" />
<rect x="604.10" y="859.90" width="26.40" height="15.00" fill="#529dfa"/>
<line x1="617.30" y1="874.90" x2="617.30" y2="883.10" stroke="#000" stroke-width="2" />
<text x="617.30" y="899.20" font-size="15" text-anchor="middle" font-weight="normal" fill="#000" >EV</text>
<text x="617.30" y="916.20" font-size="15" text-anchor="middle" font-weight="normal" fill="#000" >Q</text>
<path d="M610.50 827.60V835.40M607.12 829.55L613.88 833.45M607.12 833.45L613.88 829.55M622.50 827.60V835.40M619.12 829.55L625.88 833.45M619.12 833.45L625.88 829.55" stroke="#000" stroke-width="2.0" stroke-linecap="round" fill="none"/>
<line x1="656.50" y1="686.50" x2="656.50" y2="771.60" stroke="#222" stroke-width="1.2" />
<line x1="650.50" y1="686.50" x2="663.70" y2="686.50" stroke="#222" stroke-width="1.5" />
<rect x="643.90" y="771.60" width="26.40" height="103.30" fill="#c6dcf6"/>
<line x1="657.10" y1="874.90" x2="657.10" y2="883.10" stroke="#000" stroke-width="2" />
<text x="657.10" y="899.20" font-size="15" text-anchor="middle" font-weight="normal" fill="#000" >EV</text>
<text x="657.10" y="916.20" font-size="15" text-anchor="middle" font-weight="normal" fill="#000" >M</text>
<path d="M650.50 657.60V665.40M647.12 659.55L653.88 663.45M647.12 663.45L653.88 659.55M662.50 657.60V665.40M659.12 659.55L665.88 663.45M659.12 663.45L665.88 659.55" stroke="#000" stroke-width="2.0" stroke-linecap="round" fill="none"/>
<line x1="550.90" y1="674.30" x2="550.90" y2="875.90" stroke="#000" stroke-width="2" />
<line x1="542.40" y1="874.90" x2="685.00" y2="874.90" stroke="#000" stroke-width="2" />
<line x1="542.40" y1="874.90" x2="550.90" y2="874.90" stroke="#000" stroke-width="2" />
<text x="540.30" y="880.20" font-size="15" text-anchor="end" font-weight="normal" fill="#000" >0</text>
<line x1="542.40" y1="834.98" x2="550.90" y2="834.98" stroke="#000" stroke-width="2" />
<text x="540.30" y="840.28" font-size="15" text-anchor="end" font-weight="normal" fill="#000" >20</text>
<line x1="542.40" y1="795.06" x2="550.90" y2="795.06" stroke="#000" stroke-width="2" />
<text x="540.30" y="800.36" font-size="15" text-anchor="end" font-weight="normal" fill="#000" >40</text>
<line x1="542.40" y1="755.14" x2="550.90" y2="755.14" stroke="#000" stroke-width="2" />
<text x="540.30" y="760.44" font-size="15" text-anchor="end" font-weight="normal" fill="#000" >60</text>
<line x1="542.40" y1="715.22" x2="550.90" y2="715.22" stroke="#000" stroke-width="2" />
<text x="540.30" y="720.52" font-size="15" text-anchor="end" font-weight="normal" fill="#000" >80</text>
<line x1="542.40" y1="675.30" x2="550.90" y2="675.30" stroke="#000" stroke-width="2" />
<text x="540.30" y="680.60" font-size="15" text-anchor="end" font-weight="normal" fill="#000" >100</text>
<text transform="translate(505.1,775.75) rotate(-90)" font-size="14.8" text-anchor="middle">Let-7f-5p level (Fold change to WS)</text>
</g>
</svg>
</body></html>
